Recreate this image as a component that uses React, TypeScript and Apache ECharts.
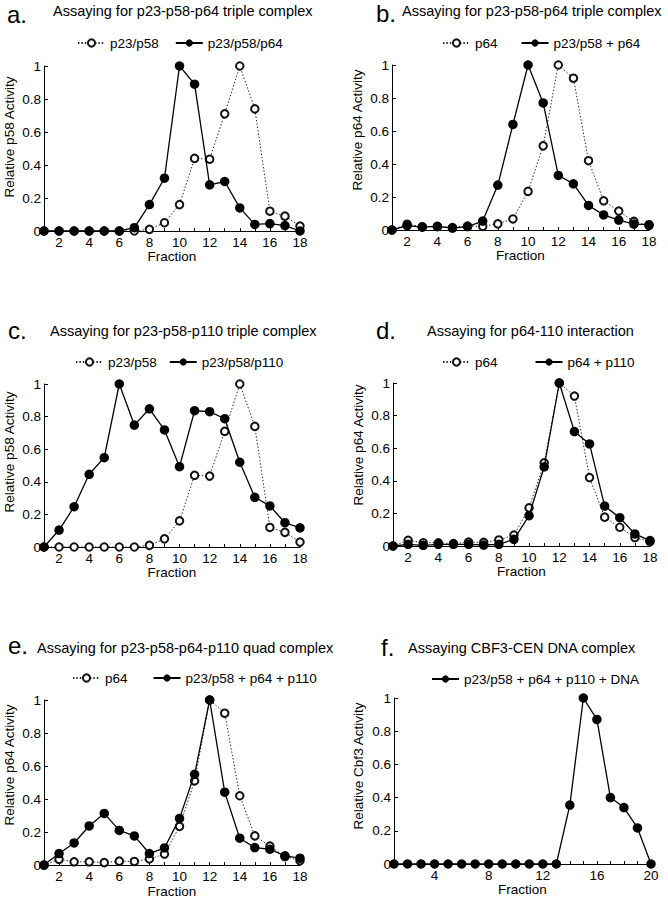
import React, { useEffect, useRef } from "react";
import * as echarts from "echarts";

const FONT = "'Liberation Sans', Arial, Helvetica, sans-serif";

// Fractions
const fractions18 = [1, 2, 3, 4, 5, 6, 7, 8, 9, 10, 11, 12, 13, 14, 15, 16, 17, 18];
const fractions20 = [1, 2, 3, 4, 5, 6, 7, 8, 9, 10, 11, 12, 13, 14, 15, 16, 17, 18, 19, 20];

// Panel a / c: p23/p58 alone (open)
const p23p58 = [0, 0, 0, 0, 0, 0, 0, 0.01, 0.05, 0.16, 0.44, 0.435, 0.71, 1, 0.74, 0.12, 0.09, 0.03];
// Panel a: p23/p58/p64
const p23p58p64 = [0, 0, 0, 0, 0, 0, 0.02, 0.16, 0.32, 1, 0.89, 0.28, 0.3, 0.14, 0.04, 0.045, 0.033, 0];
// Panel b, d, e: p64 alone (open)
const p64 = [0, 0.035, 0.02, 0.02, 0.015, 0.024, 0.022, 0.037, 0.067, 0.234, 0.51, 1, 0.92, 0.42, 0.177, 0.115, 0.052, 0.027];
// Panel b: p23/p58 + p64
const p23p58_p64 = [0, 0.026, 0.017, 0.022, 0.012, 0.021, 0.054, 0.272, 0.64, 1, 0.77, 0.331, 0.28, 0.149, 0.091, 0.06, 0.036, 0.032];
// Panel c: p23/p58/p110
const p23p58p110 = [0, 0.104, 0.247, 0.446, 0.548, 1, 0.748, 0.848, 0.718, 0.493, 0.836, 0.83, 0.787, 0.52, 0.305, 0.252, 0.149, 0.118];
// Panel d: p64 + p110
const p64_p110 = [0, 0.01, 0.004, 0.01, 0.01, 0.01, 0.006, 0.01, 0.041, 0.186, 0.486, 1, 0.702, 0.626, 0.245, 0.174, 0.074, 0.033];
// Panel e: p23/p58 + p64 + p110
const quad = [0, 0.07, 0.134, 0.237, 0.313, 0.21, 0.177, 0.07, 0.104, 0.283, 0.55, 1, 0.442, 0.163, 0.106, 0.096, 0.056, 0.042];
// Panel f: p23/p58 + p64 + p110 + DNA
const quadDNA = [0, 0, 0, 0, 0, 0, 0, 0, 0, 0, 0, 0, 0, 0.355, 1, 0.871, 0.4, 0.34, 0.217, 0];

const yTicks = [0, 0.2, 0.4, 0.6, 0.8, 1];

const pairs = (xs: number[], ys: number[]) => xs.map((x, i) => [x, ys[i]]);

const openStyle = (name: string, data: number[][], idx: number) => ({
  type: "line",
  name,
  xAxisIndex: idx,
  yAxisIndex: idx,
  data,
  symbol: "emptyCircle",
  symbolSize: 7.5,
  showSymbol: true,
  z: 2,
  lineStyle: { color: "#222", width: 1, type: [1.4, 2] },
  itemStyle: { color: "#111", borderColor: "#111", borderWidth: 1.1 },
});

const filledStyle = (name: string, data: number[][], idx: number) => ({
  type: "line",
  name,
  xAxisIndex: idx,
  yAxisIndex: idx,
  data,
  symbol: "circle",
  symbolSize: 9.5,
  z: 3,
  lineStyle: { color: "#000", width: 1.3, type: "solid" },
  itemStyle: { color: "#000", borderColor: "#000", borderWidth: 0 },
});

export default function App() {
  const ref = useRef<HTMLDivElement>(null);
  useEffect(() => {
    if (!ref.current) return;
    const chart = echarts.init(ref.current, undefined, { renderer: "svg" });

    const grids = [
      { left: 44, top: 66, width: 256, height: 165 },
      { left: 392, top: 65, width: 257, height: 165 },
      { left: 44, top: 384, width: 256, height: 163 },
      { left: 393, top: 383, width: 257, height: 163 },
      { left: 44, top: 700, width: 256, height: 166 },
      { left: 394, top: 698, width: 257, height: 166 },
    ];

    const xAxis = grids.map((_, i) => {
      const isF = i === 5;
      return {
        type: "value",
        gridIndex: i,
        min: 1,
        max: isF ? 20 : 18,
        interval: 1,
        name: "Fraction",
        nameLocation: "middle",
        nameGap: 18,
        nameTextStyle: { fontFamily: FONT, fontSize: 13.5, color: "#000" },
        axisLine: { show: true, onZero: false, lineStyle: { color: "#000", width: 1 } },
        axisTick: { show: true, inside: true, length: 3, lineStyle: { color: "#000" } },
        splitLine: { show: false },
        axisLabel: {
          fontFamily: FONT,
          fontSize: 13.5,
          color: "#000",
          margin: 4,
          showMinLabel: true,
          formatter: (v: number) => (isF ? (v % 4 === 0 ? String(v) : "") : v % 2 === 0 ? String(v) : ""),
        },
      };
    });

    const yAxis = grids.map((_, i) => ({
      type: "value",
      gridIndex: i,
      min: 0,
      max: 1,
      interval: 0.2,
      axisLine: { show: true, lineStyle: { color: "#000", width: 1 } },
      axisTick: { show: true, inside: true, length: 4, lineStyle: { color: "#000" } },
      splitLine: { show: false },
      axisLabel: {
        fontFamily: FONT,
        fontSize: 13.5,
        color: "#000",
        margin: 3,
        formatter: (v: number) => {
          const t = yTicks.find((k) => Math.abs(k - v) < 1e-6);
          if (t === undefined) return "";
          return t === 0 ? "0" : t === 1 ? "1" : t.toFixed(1);
        },
      },
    }));

    const series = [
      openStyle("p23/p58", pairs(fractions18, p23p58), 0),
      filledStyle("p23/p58/p64", pairs(fractions18, p23p58p64), 0),
      openStyle("p64", pairs(fractions18, p64), 1),
      filledStyle("p23/p58 + p64", pairs(fractions18, p23p58_p64), 1),
      openStyle("p23/p58", pairs(fractions18, p23p58), 2),
      filledStyle("p23/p58/p110", pairs(fractions18, p23p58p110), 2),
      openStyle("p64", pairs(fractions18, p64), 3),
      filledStyle("p64 + p110", pairs(fractions18, p64_p110), 3),
      openStyle("p64", pairs(fractions18, p64), 4),
      filledStyle("p23/p58 + p64 + p110", pairs(fractions18, quad), 4),
      filledStyle("p23/p58 + p64 + p110 + DNA", pairs(fractions20, quadDNA), 5),
    ];

    const legendBase = {
      orient: "horizontal",
      itemWidth: 27,
      itemHeight: 9,
      selectedMode: false,
      textStyle: { fontFamily: FONT, fontSize: 13.5, color: "#000" },
      padding: 0,
    };
    const legend = [
      { ...legendBase, left: 77, top: 36, itemGap: 16, data: ["p23/p58", "p23/p58/p64"] },
      { ...legendBase, left: 442, top: 36, itemGap: 23, data: ["p64", "p23/p58 + p64"] },
      { ...legendBase, left: 75, top: 355, itemGap: 12, data: ["p23/p58", "p23/p58/p110"] },
      { ...legendBase, left: 442, top: 355, itemGap: 37, data: ["p64", "p64 + p110"] },
      { ...legendBase, left: 72, top: 671, itemGap: 25, data: ["p64", "p23/p58 + p64 + p110"] },
      { ...legendBase, left: 431, top: 672, itemGap: 20, data: ["p23/p58 + p64 + p110 + DNA"] },
    ];

    const txt = (text: string, x: number, y: number, size: number, opts: any = {}) => ({
      type: "text",
      x,
      y,
      rotation: opts.rotation || 0,
      style: {
        text,
        fill: "#000",
        font: `${size}px ${FONT}`,
        fontSize: size,
        fontFamily: FONT,
        align: opts.align || "left",
        verticalAlign: "middle",
        textAlign: opts.align || "left",
        textVerticalAlign: "middle",
      },
    });

    const graphic = [
      txt("a.", 7, 14, 24),
      txt("Assaying for p23-p58-p64 triple complex", 53, 11, 14.5),
      txt("b.", 376, 13, 24),
      txt("Assaying for p23-p58-p64 triple complex", 402, 11, 14.5),
      txt("c.", 8, 330, 24),
      txt("Assaying for p23-p58-p110 triple complex", 50, 331, 14.5),
      txt("d.", 376, 330, 24),
      txt("Assaying for p64-110 interaction", 427, 331, 14.5),
      txt("e.", 8, 645, 24),
      txt("Assaying for p23-p58-p64-p110 quad complex", 37, 648, 14.5),
      txt("f.", 381, 647, 24),
      txt("Assaying CBF3-CEN DNA complex", 408, 648, 14.5),
      txt("Relative p58 Activity", 9, 137, 13.5, { rotation: Math.PI / 2, align: "center" }),
      txt("Relative p64 Activity", 357, 130, 13.5, { rotation: Math.PI / 2, align: "center" }),
      txt("Relative p58 Activity", 9, 452, 13.5, { rotation: Math.PI / 2, align: "center" }),
      txt("Relative p64 Activity", 358, 445, 13.5, { rotation: Math.PI / 2, align: "center" }),
      txt("Relative p64 Activity", 9, 765, 13.5, { rotation: Math.PI / 2, align: "center" }),
      txt("Relative Cbf3 Activity", 358, 766, 13.5, { rotation: Math.PI / 2, align: "center" }),
    ];

    chart.setOption({
      animation: false,
      backgroundColor: "#fff",
      textStyle: { fontFamily: FONT },
      grid: grids,
      xAxis,
      yAxis,
      legend,
      series,
      graphic,
    } as any);

    return () => chart.dispose();
  }, []);

  return (
    <div
      ref={ref}
      style={{ position: "fixed", left: 0, top: 0, width: 668, height: 899, background: "#fff" }}
    />
  );
}
